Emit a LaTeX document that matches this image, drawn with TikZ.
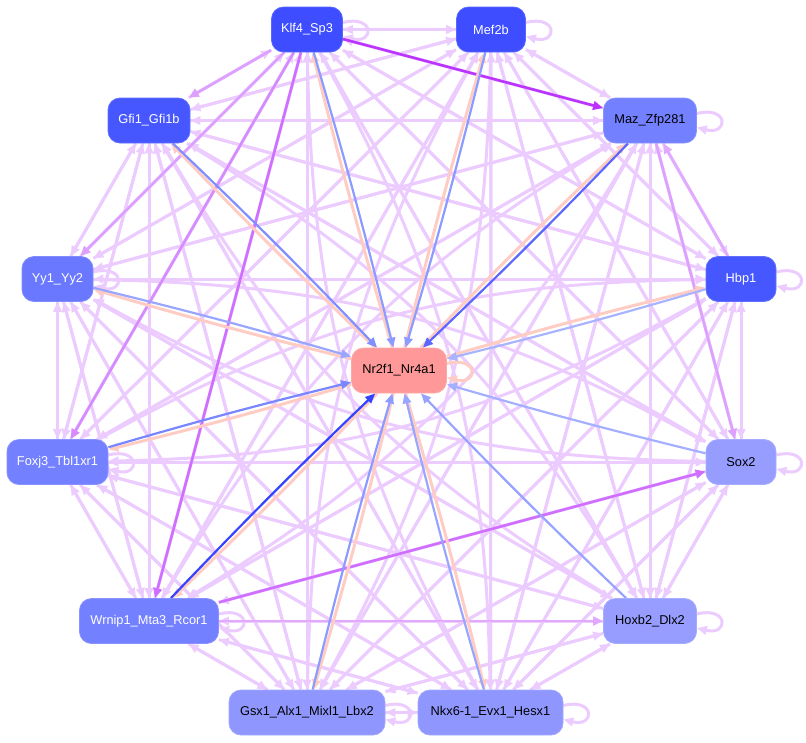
\documentclass[tikz,border=0pt]{standalone}
\usepackage{fontspec}
\setmainfont{Liberation Sans}
\usetikzlibrary{arrows.meta}
\pgfdeclarelayer{edges}
\pgfsetlayers{edges,main}
\definecolor{nA}{HTML}{3D4DFF}
\definecolor{nB}{HTML}{4757FF}
\definecolor{nC}{HTML}{6A78FF}
\definecolor{nD}{HTML}{7380FF}
\definecolor{nE}{HTML}{8F97FF}
\definecolor{nF}{HTML}{969DFF}
\definecolor{nR}{HTML}{FF9999}
\definecolor{eL}{HTML}{ECCCFF}
\definecolor{eP}{HTML}{FFCCC4}
\definecolor{h1}{HTML}{BB33FF}
\definecolor{h2}{HTML}{D06EFF}
\definecolor{h3}{HTML}{D68CFF}
\definecolor{h4}{HTML}{DEA0FF}
\definecolor{h5}{HTML}{E2AAFF}
\foreach \pp in {kn,nk,ma,am,gx,xg,zw,wz,ys,sy,hf,fh}{\expandafter\gdef\csname dia@\pp\endcsname{}}
\begin{document}
\begin{tikzpicture}[x=1pt,y=1pt,
  box/.style={rounded corners=12pt, minimum height=45pt, inner xsep=6pt,
    font=\fontsize{12.8}{15}\selectfont, line width=0.8pt},
  tipA/.style={-{Triangle[length=10pt,width=8.5pt]}},
  lightedge/.style={tipA, draw=eL, line width=3pt},
  hiedge/.style={tipA, draw=#1, line width=2.6pt},
  toR/.style={tipA, draw=#1, line width=2.2pt},
  fromR/.style={tipA, draw=eP, line width=3pt}]
\useasboundingbox (0,0) rectangle (806,-742);
% nodes
\node[box, fill=nA, draw=nA!85!white, text=white, minimum width=71pt] (k) at (307,-29.5) {Klf4\_Sp3};
\node[box, fill=nA, draw=nA!85!white, text=white, minimum width=69pt] (m) at (491,-29.5) {Mef2b};
\node[box, fill=nB, draw=nB!85!white, text=white, minimum width=82pt] (g) at (149,-120.5) {Gfi1\_Gfi1b};
\node[box, fill=nD, draw=nD!85!white, text=black, minimum width=93pt] (z) at (650,-120.5) {Maz\_Zfp281};
\node[box, fill=nC, draw=nC!85!white, text=white, minimum width=71pt] (y) at (57.5,-279) {Yy1\_Yy2};
\node[box, fill=nB, draw=nB!85!white, text=white, minimum width=70pt] (h) at (741,-279) {Hbp1};
\node[box, fill=nD, draw=nD!85!white, text=white, minimum width=101pt] (f) at (57.5,-462) {Foxj3\_Tbl1xr1};
\node[box, fill=nF, draw=nF!85!white, text=black, minimum width=70pt] (s) at (741,-462) {Sox2};
\node[box, fill=nD, draw=nD!85!white, text=white, minimum width=139pt] (w) at (149,-621) {Wrnip1\_Mta3\_Rcor1};
\node[box, fill=nF, draw=nF!85!white, text=black, minimum width=93pt] (x) at (650,-621) {Hoxb2\_Dlx2};
\node[box, fill=nE, draw=nE!85!white, text=black, minimum width=156pt] (a) at (307,-712.5) {Gsx1\_Alx1\_Mixl1\_Lbx2};
\node[box, fill=nE, draw=nE!85!white, text=black, minimum width=145pt] (n) at (490.5,-712.5) {Nkx6-1\_Evx1\_Hesx1};
\node[box, fill=nR, draw=nR!85!white, text=black, minimum width=95pt] (r) at (399,-370.5) {Nr2f1\_Nr4a1};
\begin{pgfonlayer}{edges}
% light edges between the outer nodes (opposite directions overlap)
\foreach \src in {k,m,g,z,y,h,f,s,w,x,a,n}{
  \foreach \dst in {k,m,g,z,y,h,f,s,w,x,a,n}{
    \ifx\src\dst\else
      \ifcsname dia@\src\dst\endcsname\def\bb{14}\else\def\bb{0}\fi
      \draw[lightedge] (\src) to[bend left=\bb] (\dst);
    \fi
  }
}
% self loops
\foreach \nn in {k,m,z,y,h,f,s,w,x,a,n}{
  \draw[lightedge] ([yshift=7pt]\nn.east) .. controls +(32,8) and +(32,-8) .. ([yshift=-7pt]\nn.east);
}
% stronger edges
\draw[hiedge=h1] (k) to (z);
\draw[hiedge=h2] (w) to (s);
\draw[hiedge=h2] (k) to (w);
\draw[hiedge=h3] (k) to (f);
\draw[hiedge=h4] (k) to (g);
\draw[hiedge=h4] (k) to (y);
\draw[hiedge=h4] (z) to (s);
\draw[hiedge=h5] (h) to (z);
\draw[hiedge=h5] (w) to (x);
% edges from Nr2f1 to outer nodes
\foreach \dst in {k,m,g,z,y,h,f,w,a,n}{
  \draw[fromR] (r) to[bend left=1.2] (\dst);
}
\draw[fromR] ([yshift=7pt]r.east) .. controls +(32,8) and +(32,-8) .. ([yshift=-7pt]r.east);
% edges from outer nodes to Nr2f1
\foreach \src/\col in {k/8C9BFF, m/8C9BFF, g/7F8FFF, z/5A68FF, y/98A6FF, h/A8B4FF, f/7886FF, s/A5AFFF, w/3444FF, x/98A3FF, a/8C9BFF, n/98A6FF}{
  \definecolor{tmpc}{HTML}{\col}
  \draw[toR=tmpc] (\src) to[bend left=1.2] (r);
}
\end{pgfonlayer}
\end{tikzpicture}
\end{document}
